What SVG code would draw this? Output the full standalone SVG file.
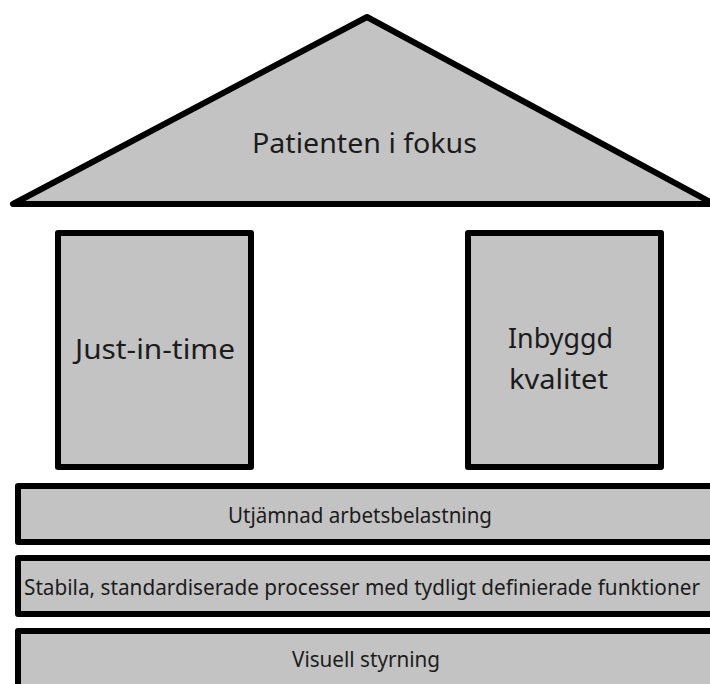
<svg xmlns="http://www.w3.org/2000/svg" width="710" height="684" viewBox="0 0 710 684">
  <style>
    .shape { fill: #c3c3c3; stroke: #000; stroke-width: 6; stroke-linejoin: round; }
    .label { font-family: "Noto Sans", "Open Sans", "DejaVu Sans", sans-serif; fill: #1c1c1c; text-anchor: middle; }
  </style>
  <rect x="0" y="0" width="710" height="684" fill="#fff"/>

  <!-- Roof -->
  <g id="roof">
    <polygon class="shape" points="367,17 13,204 714,204"/>
    <text class="label" x="364.5" y="153" font-size="28" textLength="225" lengthAdjust="spacingAndGlyphs">Patienten i fokus</text>
  </g>

  <!-- Pillars -->
  <g id="pillar-jit">
    <rect class="shape" x="58" y="233" width="193" height="234"/>
    <text class="label" x="155" y="359" font-size="28" textLength="160" lengthAdjust="spacingAndGlyphs">Just-in-time</text>
  </g>
  <g id="pillar-quality">
    <rect class="shape" x="468" y="233" width="193" height="234"/>
    <text class="label" x="560.5" y="348" font-size="27" textLength="105" lengthAdjust="spacingAndGlyphs">Inbyggd</text>
    <text class="label" x="558.5" y="389" font-size="27" textLength="99" lengthAdjust="spacingAndGlyphs">kvalitet</text>
  </g>

  <!-- Foundation layers -->
  <g id="layer-leveling">
    <rect class="shape" x="18" y="486" width="700" height="56"/>
    <text class="label" x="360" y="523" font-size="22" textLength="264" lengthAdjust="spacingAndGlyphs">Utjämnad arbetsbelastning</text>
  </g>
  <g id="layer-standard">
    <rect class="shape" x="18" y="558" width="700" height="56"/>
    <text class="label" x="362" y="595" font-size="22" textLength="676" lengthAdjust="spacingAndGlyphs">Stabila, standardiserade processer med tydligt definierade funktioner</text>
  </g>
  <g id="layer-visual">
    <rect class="shape" x="18" y="631" width="700" height="60"/>
    <text class="label" x="366" y="667" font-size="21" textLength="148" lengthAdjust="spacingAndGlyphs">Visuell styrning</text>
  </g>
</svg>
